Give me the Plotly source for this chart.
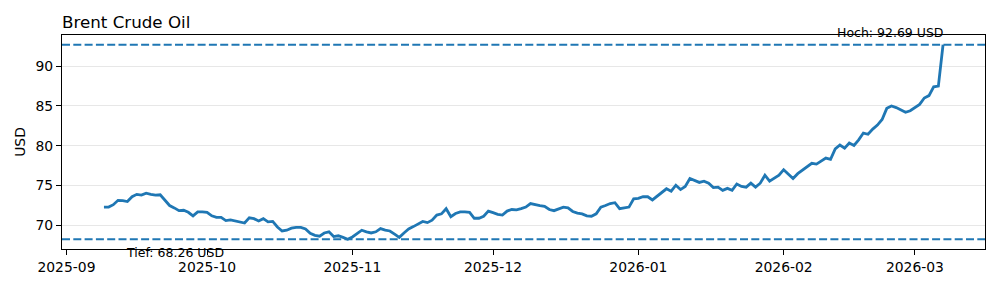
import pandas as pd
import plotly.graph_objects as go

start_date = "2025-09-09"
prices = [
    72.3, 72.3, 72.6, 73.15, 73.1, 73.0, 73.6, 73.9, 73.8, 74.05,
    73.9, 73.8, 73.85, 73.2, 72.5, 72.2, 71.85, 71.9, 71.65, 71.2,
    71.7, 71.7, 71.65, 71.2, 71.0, 71.0, 70.6, 70.7, 70.55, 70.4,
    70.3, 70.95, 70.85, 70.55, 70.85, 70.45, 70.5, 69.8, 69.3, 69.4,
    69.65, 69.75, 69.75, 69.55, 69.0, 68.75, 68.65, 69.05, 69.2, 68.6,
    68.7, 68.5, 68.26, 68.55, 69.0, 69.4, 69.2, 69.05, 69.2,
    69.6, 69.4, 69.3, 68.9, 68.5, 69.05, 69.55, 69.85, 70.2, 70.5,
    70.35, 70.65, 71.3, 71.45, 72.1, 71.1, 71.5, 71.7, 71.7, 71.65,
    70.9, 70.9, 71.15, 71.8, 71.6, 71.4, 71.3, 71.8, 72.0, 71.95,
    72.1, 72.3, 72.75,
    72.6, 72.5, 72.4, 72.0, 71.85, 72.1, 72.3, 72.2, 71.75, 71.55,
    71.45, 71.2, 71.15, 71.45, 72.3, 72.5, 72.75, 72.85, 72.1, 72.2,
    72.3, 73.35, 73.4, 73.6, 73.6, 73.2, 73.7, 74.1,
    74.6, 74.3, 75.05, 74.5, 74.9, 75.9, 75.65, 75.4, 75.55, 75.3,
    74.75, 74.8, 74.4, 74.65, 74.4, 75.2, 74.9, 74.8, 75.3, 74.8,
    75.3, 76.3, 75.55, 75.9, 76.3, 77.0, 76.5, 75.9, 76.5, 76.9, 77.3,
    77.8, 77.7, 78.1, 78.45, 78.3, 79.6, 80.1, 79.7, 80.35, 80.05,
    80.75, 81.6, 81.45, 82.1, 82.6, 83.3, 84.7, 85.0, 84.8, 84.5,
    84.2, 84.4, 84.8, 85.2, 86.0, 86.3, 87.4, 87.5, 92.69,
]
dates = pd.date_range(start_date, periods=len(prices), freq="D")

title_text = "Brent Crude Oil"
y_label = "USD"
high_val = max(prices)
low_val = min(prices)
high_label = f"Hoch: {high_val:.2f} USD"
low_label = f"Tief: {low_val:.2f} USD"

BLUE = "#1f77b4"
FONT = "DejaVu Sans"

span = dates[-1] - dates[0]
x_range = [dates[0] - span * 0.05, dates[-1] + span * 0.05]
yspan = high_val - low_val
y_range = [low_val - 0.05 * yspan, high_val + 0.05 * yspan]

fig = go.Figure()
fig.add_trace(go.Scatter(x=dates, y=prices, mode="lines",
                         line=dict(color=BLUE, width=2.8), showlegend=False))

for v in (high_val, low_val):
    fig.add_shape(type="line", xref="paper", x0=0, x1=1, yref="y", y0=v, y1=v,
                  line=dict(color=BLUE, width=2, dash="8px,3.3px"))

fig.add_annotation(x=dates[-1], y=high_val, xref="x", yref="y", text=high_label,
                   showarrow=False, xanchor="right", yanchor="bottom", yshift=3,
                   xshift=3, font=dict(family=FONT, size=12.5, color="black"))
fig.add_annotation(x=0.0672, y=low_val, xref="paper", yref="y", text=low_label,
                   showarrow=False, xanchor="left", yanchor="top", yshift=-4,
                   font=dict(family=FONT, size=12.5, color="black"))

fig.update_layout(
    width=1000, height=288,
    margin=dict(l=62, r=15, t=35, b=39),
    paper_bgcolor="white", plot_bgcolor="white",
    font=dict(family=FONT, size=13.9, color="black"),
    title=dict(text=title_text, x=62 / 1000, xref="container", xanchor="left",
               y=1 - 22 / 288, yref="container", yanchor="middle",
               font=dict(family=FONT, size=16.7, color="black")),
)
fig.update_xaxes(range=x_range, tickformat="%Y-%m", dtick="M1", tick0="2025-09-01",
                 ticks="outside", ticklen=5, tickwidth=1, tickcolor="black",
                 showgrid=False, showline=True, linecolor="black", linewidth=1,
                 mirror=True, zeroline=False)
fig.update_yaxes(range=y_range, tick0=70, dtick=5, ticks="outside", ticklen=5,
                 tickwidth=1, tickcolor="black", showgrid=True, gridcolor="#e7e7e7",
                 gridwidth=1, showline=True, linecolor="black", linewidth=1,
                 mirror=True, zeroline=False,
                 title=dict(text=y_label, standoff=6,
                            font=dict(family=FONT, size=13.9, color="black")))

fig.write_html("out.html")
